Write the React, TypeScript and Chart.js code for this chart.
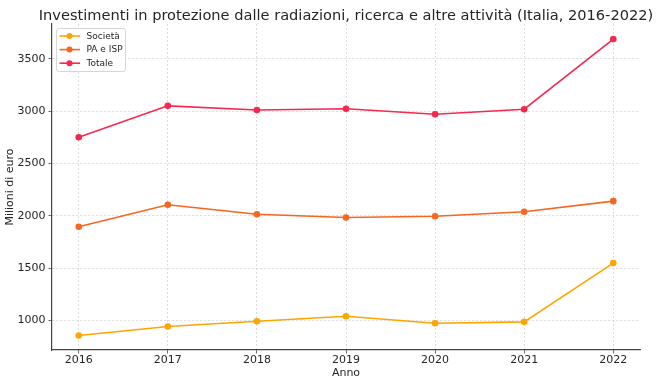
import React, { useEffect, useRef } from "react";
import { Chart, registerables } from "chart.js";

Chart.register(...registerables);

const years = [2016, 2017, 2018, 2019, 2020, 2021, 2022];
const societa = [857, 943, 993, 1041, 974, 987, 1548];
const paIsp = [1895, 2105, 2015, 1984, 1996, 2038, 2140];
const totale = [2750, 3050, 3010, 3023, 2970, 3018, 3688];
const yTicks = [1000, 1500, 2000, 2500, 3000, 3500];
const seriesNames = ["Società", "PA e ISP", "Totale"];
const seriesColors = ["#FFA500", "#F5661E", "#F5284F"];
const titleText =
  "Investimenti in protezione dalle radiazioni, ricerca e altre attività (Italia, 2016-2022)";

const FONT = "'DejaVu Sans', sans-serif";

const plotTitle = {
  id: "plotTitle",
  afterDraw(chart: any) {
    const ctx = chart.ctx;
    const area = chart.chartArea;
    ctx.save();
    ctx.fillStyle = "#262626";
    ctx.font = `14.6px ${FONT}`;
    ctx.textAlign = "center";
    ctx.textBaseline = "alphabetic";
    ctx.fillText(titleText, (area.left + area.right) / 2, 19.5);
    ctx.restore();
  },
};

const insideLegend = {
  id: "insideLegend",
  afterDraw(chart: any) {
    const ctx = chart.ctx;
    const area = chart.chartArea;
    const x0 = area.left + 4.5;
    const y0 = area.top + 4.5;
    const w = 69;
    const h = 43;
    ctx.save();
    ctx.beginPath();
    const r = 2.5;
    ctx.moveTo(x0 + r, y0);
    ctx.lineTo(x0 + w - r, y0);
    ctx.quadraticCurveTo(x0 + w, y0, x0 + w, y0 + r);
    ctx.lineTo(x0 + w, y0 + h - r);
    ctx.quadraticCurveTo(x0 + w, y0 + h, x0 + w - r, y0 + h);
    ctx.lineTo(x0 + r, y0 + h);
    ctx.quadraticCurveTo(x0, y0 + h, x0, y0 + h - r);
    ctx.lineTo(x0, y0 + r);
    ctx.quadraticCurveTo(x0, y0, x0 + r, y0);
    ctx.closePath();
    ctx.fillStyle = "rgba(255,255,255,0.8)";
    ctx.fill();
    ctx.strokeStyle = "#d6d6d6";
    ctx.lineWidth = 1;
    ctx.stroke();
    chart.data.datasets.forEach((ds: any, i: number) => {
      const cy = y0 + 7.5 + i * 13.6;
      ctx.strokeStyle = ds.borderColor;
      ctx.lineWidth = 1.6;
      ctx.beginPath();
      ctx.moveTo(x0 + 3, cy);
      ctx.lineTo(x0 + 23.5, cy);
      ctx.stroke();
      ctx.fillStyle = ds.borderColor;
      ctx.beginPath();
      ctx.arc(x0 + 13, cy, 3, 0, Math.PI * 2);
      ctx.fill();
      ctx.fillStyle = "#262626";
      ctx.font = `9px ${FONT}`;
      ctx.textBaseline = "middle";
      ctx.textAlign = "left";
      ctx.fillText(ds.label, x0 + 30, cy + 0.5);
    });
    ctx.restore();
  },
};

export default function App() {
  const ref = useRef<HTMLCanvasElement>(null);
  useEffect(() => {
    document.body.style.margin = "0";
    const values = [societa, paIsp, totale];
    const chart = new Chart(ref.current as HTMLCanvasElement, {
      type: "line",
      data: {
        datasets: values.map((vals, i) => ({
          label: seriesNames[i],
          data: years.map((y, j) => ({ x: y, y: vals[j] })),
          borderColor: seriesColors[i],
          backgroundColor: seriesColors[i],
          pointBackgroundColor: seriesColors[i],
          pointBorderWidth: 0,
          pointRadius: 3.3,
          borderWidth: 1.6,
          tension: 0,
        })),
      },
      options: {
        responsive: false,
        animation: false,
        layout: { padding: { left: 0, right: 18, top: 24, bottom: 5 } },
        plugins: {
          legend: { display: false },
          tooltip: { enabled: false },
          title: { display: false },
        },
        scales: {
          x: {
            type: "linear",
            min: 2015.7,
            max: 2022.3,
            afterBuildTicks: (scale: any) => {
              scale.ticks = years.map((v) => ({ value: v }));
            },
            afterFit: (scale: any) => {
              scale.height = 30;
            },
            ticks: {
              color: "#262626",
              font: { family: FONT, size: 11 },
              padding: 0,
              maxRotation: 0,
              callback: (v: any) => String(v),
            },
            grid: {
              color: "#d3d3d3",
              lineWidth: 0.8,
              tickLength: 3.5,
              tickColor: "#444",
              tickWidth: 0.8,
            },
            border: { display: true, color: "#444", width: 1.2, dash: [2, 2] },
            title: {
              display: true,
              text: "Anno",
              color: "#262626",
              font: { family: FONT, size: 11 },
              padding: { top: 0, bottom: 0 },
            },
          },
          y: {
            min: 718,
            max: 3832,
            afterBuildTicks: (scale: any) => {
              scale.ticks = yTicks.map((v) => ({ value: v }));
            },
            afterFit: (scale: any) => {
              scale.width = 52;
            },
            ticks: {
              color: "#262626",
              font: { family: FONT, size: 11 },
              padding: 3,
              callback: (v: any) => String(v),
            },
            grid: {
              color: "#d3d3d3",
              lineWidth: 0.8,
              tickLength: 3.5,
              tickColor: "#444",
              tickWidth: 0.8,
            },
            border: { display: true, color: "#444", width: 1.2, dash: [2, 2] },
            title: {
              display: true,
              text: "Milioni di euro",
              color: "#262626",
              font: { family: FONT, size: 11 },
              padding: { top: 4, bottom: 0 },
            },
          },
        },
      },
      plugins: [plotTitle, insideLegend],
    } as any);
    return () => chart.destroy();
  }, []);
  return (
    <div style={{ width: 658, height: 385 }}>
      <canvas ref={ref} width={658} height={385} />
    </div>
  );
}
